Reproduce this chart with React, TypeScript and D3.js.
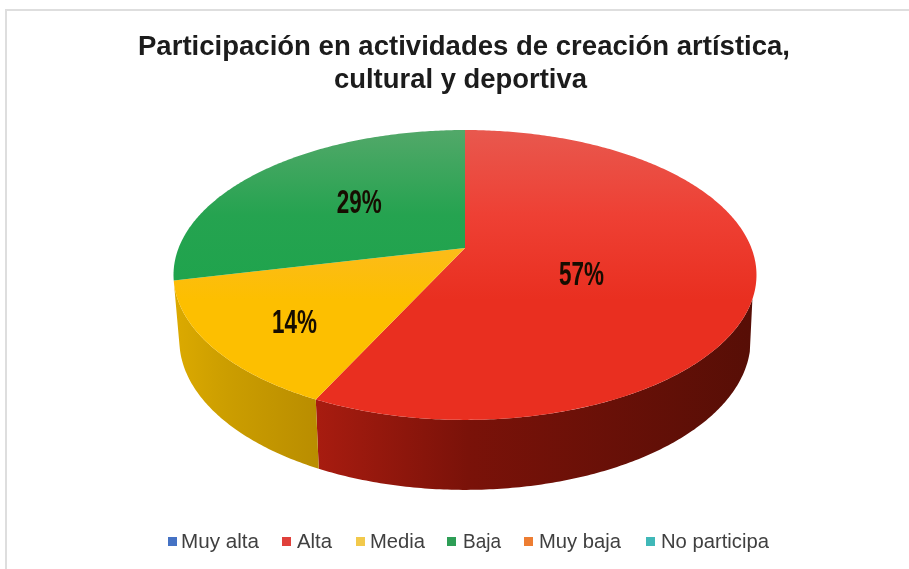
import React from "react";
import * as d3 from "d3";

const categories = ["Muy alta", "Alta", "Media", "Baja", "Muy baja", "No participa"];
const values = [0, 57.14, 14.29, 28.57, 0, 0];
const legendColors = ["#4472c4", "#e0403a", "#f2c94c", "#2e9e57", "#ed7d31", "#3fb8b8"];
const legendSquareX = [168, 282, 356, 447, 524, 646];
const legendTextX = [181, 297, 370, 463, 539, 661];
const legendTextWidth = [78, 35, 55, 38, 82, 108];
const topStops = [
  ["#4472c4", "#4472c4", "#4472c4"],
  ["#e8584e", "#ee4034", "#e92f20"],
  ["#fbb82a", "#fbb92a", "#fdbf00"],
  ["#52a869", "#25a350", "#1ea44c"],
  ["#ed7d31", "#ed7d31", "#ed7d31"],
  ["#3fb8b8", "#3fb8b8", "#3fb8b8"],
];
const sideStops = [
  ["#4472c4", "#4472c4", "#4472c4"],
  ["#a81c10", "#7a1209", "#570e06"],
  ["#dcaa00", "#cc9e00", "#b98d00"],
  ["#1a8a40", "#1a8a40", "#1a8a40"],
  ["#ed7d31", "#ed7d31", "#ed7d31"],
  ["#3fb8b8", "#3fb8b8", "#3fb8b8"],
];
const titleLines = ["Participación en actividades de creación artística,", "cultural y deportiva"];
const titleWidths = [652, 253];
const titleCenters = [464, 460.5];

const labelRadius = [0, 0.41, 0.7, 0.5, 0, 0];
const labelShift = [0, 12, 7, -6, 0, 0];

const W = 909;
const H = 569;
const apex = { x: 465, y: 248 };
const rimRadius = 286.4;
const yScale = 93.8;
const persp = -0.186;
const rad = Math.PI / 180;
const sideRimStart = 110 * rad;
const sideLowerStart = 105 * rad;
const hiddenSideFrom = 250 * rad;

type Pt = { x: number; y: number };

function project(theta: number, r = 1): Pt {
  const px = Math.sin(theta) * r;
  const py = -Math.cos(theta) * r;
  const w = 1 + persp * py;
  return { x: apex.x + (rimRadius * px) / w, y: (apex.y + yScale * py) / w };
}
function lower(p: Pt): Pt {
  return { x: apex.x + (p.x - apex.x) * 0.98, y: 340 + ((p.y - 275) * 150) / 145 };
}

export default function App() {
  const arcs = d3
    .pie<number>()
    .sort(null)
    .startAngle(0)
    .endAngle(2 * Math.PI)(values);
  const line = d3
    .line<Pt>()
    .x((d) => d.x)
    .y((d) => d.y);
  const sample = (a: number, b: number) => {
    const n = Math.max(2, Math.ceil((b - a) * 90));
    return d3.range(n + 1).map((i) => project(a + ((b - a) * i) / n));
  };

  return (
    <svg
      width={W}
      height={H}
      viewBox={`0 0 ${W} ${H}`}
      style={{ position: "absolute", left: 0, top: 0, background: "#fff" }}
    >
      <defs>
        <filter id="soft" x="-5%" y="-20%" width="110%" height="140%">
          <feGaussianBlur stdDeviation="0.5" />
        </filter>
        {categories.map((c, i) => (
          <React.Fragment key={c}>
            <linearGradient id={`top${i}`} gradientUnits="userSpaceOnUse" x1="0" y1="130" x2="0" y2="300">
              <stop offset="0" stopColor={topStops[i][0]} />
              <stop offset="0.5" stopColor={topStops[i][1]} />
              <stop offset="1" stopColor={topStops[i][2]} />
            </linearGradient>
            <linearGradient id={`side${i}`} gradientUnits="objectBoundingBox" x1="0" y1="0" x2="1" y2="0">
              <stop offset="0" stopColor={sideStops[i][0]} />
              <stop offset="0.35" stopColor={sideStops[i][1]} />
              <stop offset="1" stopColor={sideStops[i][2]} />
            </linearGradient>
          </React.Fragment>
        ))}
      </defs>
      <rect x="6" y="10" width={W} height={H} fill="#fff" stroke="#dedede" strokeWidth="2" />
      <g
        filter="url(#soft)"
        fontFamily="'Liberation Sans', Arial, sans-serif"
        fill="#1a1a1a"
        fontWeight="700"
        fontSize="27.5"
        textAnchor="middle"
      >
        {titleLines.map((t, i) => (
          <text key={t} x={titleCenters[i]} y={55 + i * 33} textLength={titleWidths[i]} lengthAdjust="spacingAndGlyphs">
            {t}
          </text>
        ))}
      </g>
      {arcs.map((a, i) => {
        if (a.value === 0 || a.startAngle >= hiddenSideFrom) return null;
        const rimStart = Math.max(a.startAngle, sideRimStart);
        const lowStart = Math.max(a.startAngle, sideLowerStart);
        const rim = sample(rimStart, a.endAngle);
        const low = sample(lowStart, a.endAngle).map(lower).reverse();
        return <path key={`s${i}`} d={line([...rim, ...low])! + "Z"} fill={`url(#side${i})`} />;
      })}
      {arcs.map((a, i) =>
        a.value === 0 ? null : (
          <path
            key={`t${i}`}
            d={line([apex, ...sample(a.startAngle, a.endAngle)])! + "Z"}
            fill={`url(#top${i})`}
          />
        ),
      )}
      {arcs.map((a, i) => {
        if (a.value === 0) return null;
        const p = project((a.startAngle + a.endAngle) / 2, labelRadius[i]);
        return (
          <text
            key={`l${i}`}
            transform={`translate(${p.x},${p.y + labelShift[i] + 12}) scale(0.66,1)`}
            textAnchor="middle"
            fontFamily="'Liberation Sans', Arial, sans-serif"
            fontWeight="700"
            fontSize="34"
            fill="#160b05"
            filter="url(#soft)"
          >
            {Math.round(a.value)}%
          </text>
        );
      })}
      <g fontFamily="'Liberation Sans', Arial, sans-serif" fontSize="20.5" fill="#404040" filter="url(#soft)">
        {categories.map((c, i) => (
          <g key={c}>
            <rect x={legendSquareX[i]} y={537} width="9" height="9" fill={legendColors[i]} />
            <text x={legendTextX[i]} y={548} textLength={legendTextWidth[i]} lengthAdjust="spacingAndGlyphs">
              {c}
            </text>
          </g>
        ))}
      </g>
    </svg>
  );
}
